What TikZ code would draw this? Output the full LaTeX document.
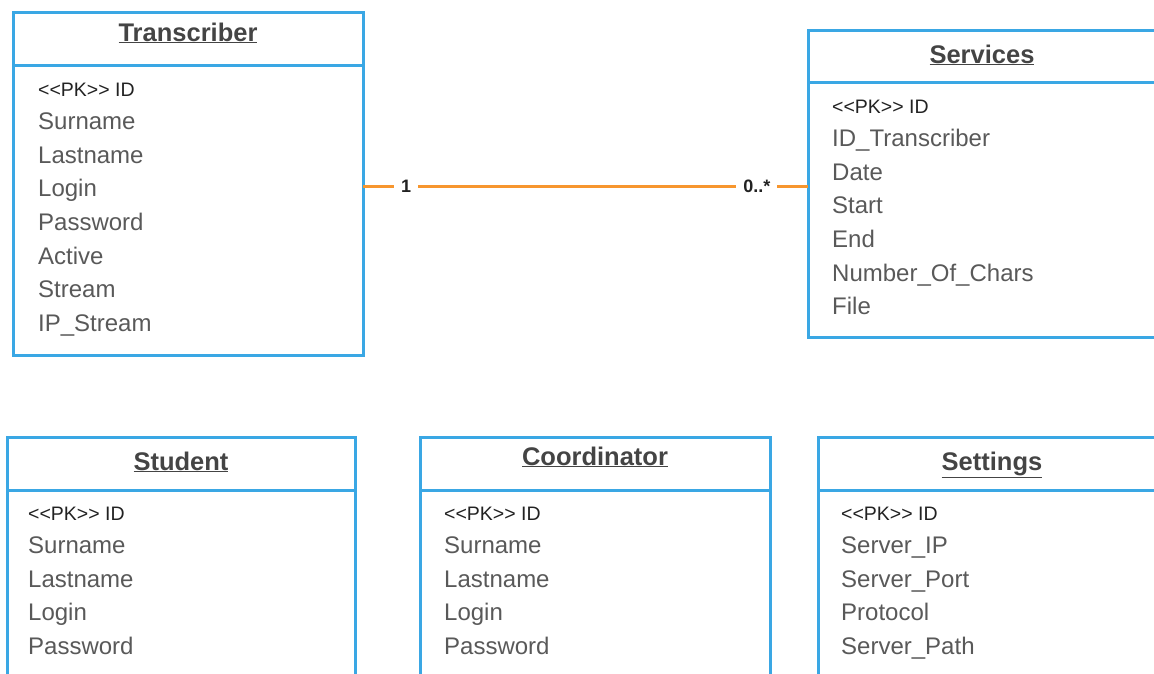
\documentclass[tikz,border=0pt]{standalone}
\usepackage{fontspec}
\setmainfont{Liberation Sans}
\usetikzlibrary{positioning}

\definecolor{umlblue}{HTML}{3AA7E4}
\definecolor{linkorange}{HTML}{F7962E}
\definecolor{titlegray}{HTML}{444444}
\definecolor{attrgray}{HTML}{595959}
\definecolor{pkgray}{HTML}{222222}

\newcommand{\pkid}{{<}{<}PK{>}{>} ID}

\tikzset{
  classbox/.style={draw=umlblue,line width=3pt,rectangle,anchor=north west,
    inner sep=0pt,outer sep=0pt},
  divider/.style={draw=umlblue,line width=3pt},
  classtitle/.style={anchor=base,inner sep=0pt,text=titlegray,
    font=\fontsize{25.5}{27}\selectfont\bfseries},
  attr/.style={anchor=base west,inner sep=0pt,text=attrgray,
    font=\fontsize{24}{26}\selectfont},
  pk/.style={attr,text=pkgray,font=\fontsize{19.5}{21}\selectfont},
  link/.style={draw=linkorange,line width=3pt},
  mult/.style={fill=white,inner xsep=7pt,inner ysep=2pt,text=pkgray,
    font=\fontsize{18}{20}\selectfont\bfseries}
}

\begin{document}
\begin{tikzpicture}[x=1pt,y=-1pt]
\useasboundingbox (0,0) rectangle (1154,673);
\clip (0,0) rectangle (1154,673);

% Transcriber
\node[classbox,minimum width=350pt,minimum height=343pt] (transcriber) at (13,12) {};
\draw[divider] (transcriber.west |- 0,65) -- (transcriber.east |- 0,65);
\node[classtitle] (transcriber-title) at (188,41) {\underline{Transcriber}};
\node[pk] (transcriber-0) at (38,96) {\pkid};
\foreach \a [count=\i] in {Surname,Lastname,Login,Password,Active,Stream,IP\_Stream}
  \node[attr] (transcriber-\i) at (38,96+33.6*\i) {\a};

% Services
\node[classbox,minimum width=348pt,minimum height=307pt] (services) at (808,30) {};
\draw[divider] (services.west |- 0,82) -- (services.east |- 0,82);
\node[classtitle] (services-title) at (982,63) {\underline{Services}};
\node[pk] (services-0) at (832,113) {\pkid};
\foreach \a [count=\i] in {ID\_Transcriber,Date,Start,End,Number\_Of\_Chars,File}
  \node[attr] (services-\i) at (832,113+33.6*\i) {\a};

% Student
\node[classbox,minimum width=348pt,minimum height=300pt] (student) at (7,437) {};
\draw[divider] (student.west |- 0,490) -- (student.east |- 0,490);
\node[classtitle] (student-title) at (181,470) {\underline{Student}};
\node[pk] (student-0) at (28,520) {\pkid};
\foreach \a [count=\i] in {Surname,Lastname,Login,Password}
  \node[attr] (student-\i) at (28,520+33.6*\i) {\a};

% Coordinator
\node[classbox,minimum width=350pt,minimum height=300pt] (coordinator) at (420,437) {};
\draw[divider] (coordinator.west |- 0,490) -- (coordinator.east |- 0,490);
\node[classtitle] (coordinator-title) at (595,465) {\underline{Coordinator}};
\node[pk] (coordinator-0) at (444,520) {\pkid};
\foreach \a [count=\i] in {Surname,Lastname,Login,Password}
  \node[attr] (coordinator-\i) at (444,520+33.6*\i) {\a};

% Settings
\node[classbox,minimum width=348pt,minimum height=300pt] (settings) at (818,437) {};
\draw[divider] (settings.west |- 0,490) -- (settings.east |- 0,490);
\node[classtitle] (settings-title) at (992,470) {\underline{Settings}};
\node[pk] (settings-0) at (841,520) {\pkid};
\foreach \a [count=\i] in {Server\_IP,Server\_Port,Protocol,Server\_Path}
  \node[attr] (settings-\i) at (841,520+33.6*\i) {\a};

% association
\draw[link] ([yshift=-2.5pt]transcriber.east) -- ([yshift=-2.5pt]services.west)
  node[mult,pos=0.097] (one) {1}
  node[mult,pos=0.885] (many) {0..*};
\end{tikzpicture}
\end{document}
